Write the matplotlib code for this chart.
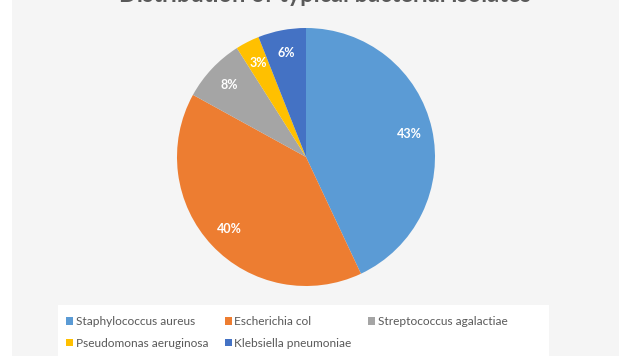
import matplotlib.pyplot as plt
from matplotlib.patches import Rectangle, Patch

organisms = ['Staphylococcus aureus', 'Escherichia col', 'Streptococcus agalactiae',
             'Pseudomonas aeruginosa', 'Klebsiella pneumoniae']
shares = [43, 40, 8, 3, 6]
colors = ['#5B9BD5', '#ED7D31', '#A5A5A5', '#FFC000', '#4472C4']

W, H = 619, 356
fig = plt.figure(figsize=(W / 100, H / 100), dpi=100, facecolor='#f5f5f5')

# white strip on the left and white legend band
fig.patches.append(Rectangle((0, 0), 12 / W, 1, transform=fig.transFigure,
                             facecolor='white', edgecolor='none', zorder=0))
fig.patches.append(Rectangle((58 / W, 0), (549 - 58) / W, 51 / H, transform=fig.transFigure,
                             facecolor='white', edgecolor='none', zorder=0))

# title, mostly cut off at the top edge (as in the source image)
fig.text(0.525, 1 - 2 / H, 'Distribution of typical bacterial isolates', ha='center', va='baseline',
         fontsize=17, fontweight='bold', color='#595959', family='Lato')

cx, cy, r = 306, 157, 129
ax = fig.add_axes([(cx - r) / W, (H - cy - r) / H, 2 * r / W, 2 * r / H])
ax.set_facecolor('none')
wedges, texts, autotexts = ax.pie(shares, colors=colors, startangle=90, counterclock=False,
                                  autopct='%d%%', pctdistance=0.82,
                                  wedgeprops=dict(linewidth=0))
for t in autotexts:
    t.set_color('white')
    t.set_fontsize(9)
    t.set_fontweight('bold')
    t.set_family('Lato')
ax.set_aspect('equal')
ax.set_xlim(-1, 1)
ax.set_ylim(-1, 1)

# order handles so the legend reads row by row
order = [0, 3, 1, 4, 2]
handles = [Patch(facecolor=colors[i], edgecolor='none') for i in order]
labels = [organisms[i] for i in order]
fig.legend(handles, labels, loc='upper left', bbox_to_anchor=(60 / W, 1 - 310 / H),
           ncol=3, frameon=False, handlelength=0.6, handleheight=0.6,
           handletextpad=0.2, columnspacing=1.4, labelspacing=0.9, borderpad=0,
           labelcolor='#595959', prop={'family': 'Lato', 'size': 8.6})

fig.savefig('out.png', dpi=100, facecolor=fig.get_facecolor())
